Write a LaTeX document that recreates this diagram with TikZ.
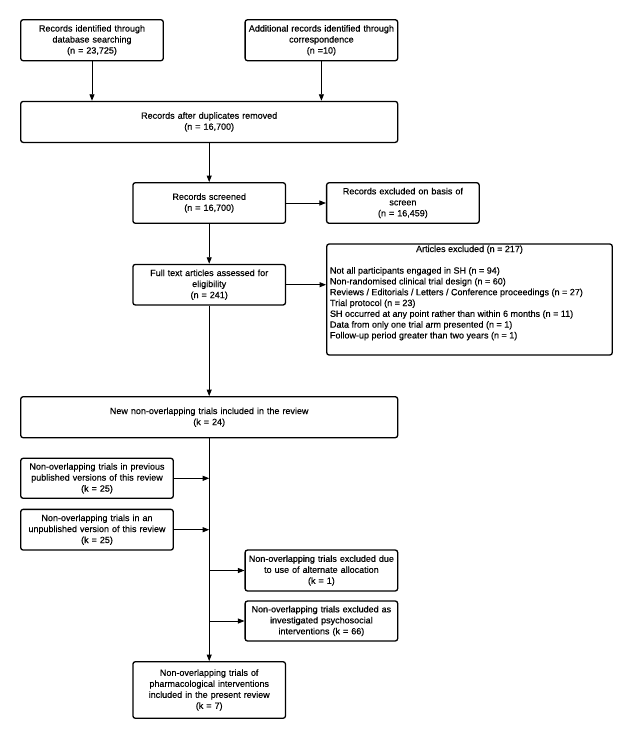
\documentclass[tikz,border=0pt]{standalone}
\usepackage{fontspec}
\setmainfont{Liberation Sans}[FakeBold=0.4]
\usetikzlibrary{arrows.meta}
\begin{document}
\begin{tikzpicture}[x=1pt,y=-1pt,
  box/.style={draw=black, line width=1.3pt, rounded corners=2.5pt, align=center, inner sep=2pt, font=\fontsize{9}{11}\selectfont, minimum height=41pt},
  std/.style={box, minimum width=152.6pt, text width=148pt},
  wide/.style={box, minimum width=377pt, text width=370pt},
  artbox/.style={draw=black, line width=1.3pt, rounded corners=2.5pt, inner xsep=3.3pt, inner ysep=1.5pt, font=\fontsize{9}{10.8}\selectfont},
  arr/.style={draw=black, line width=0.9pt, -{Triangle[length=6.5pt,width=5pt]}}]
\useasboundingbox (0,0) rectangle (632,740);

\node[std, minimum width=142.6pt, text width=138pt] (b1) at (92,40.2) {Records identified through\\database searching\\(n = 23,725)};
\node[std] (b2) at (321.4,40.2) {Additional records identified through\\correspondence\\(n =10)};
\node[wide] (dup) at (209.2,121.9) {Records after duplicates removed\\(n = 16,700)};
\node[std, minimum height=40.6pt] (scr) at (209.2,203) {Records screened\\(n = 16,700)};
\node[std, minimum height=40.6pt] (exc) at (402.9,203) {Records excluded on basis of\\screen\\(n = 16,459)};
\node[std, minimum height=40.6pt] (full) at (209.2,284.7) {Full text articles assessed for\\eligibility\\(n = 241)};
\node[artbox] (art) at (469.5,299.5) {\begin{minipage}[c][108pt][t]{279pt}\centering Articles excluded (n = 217)\par\vspace{10.8pt}\raggedright
Not all participants engaged in SH (n = 94)\\
Non-randomised clinical trial design (n = 60)\\
Reviews / Editorials / Letters / Conference proceedings (n = 27)\\
Trial protocol (n = 23)\\
SH occurred at any point rather than within 6 months (n = 11)\\
Data from only one trial arm presented (n = 1)\\
Follow-up period greater than two years (n = 1)\end{minipage}};
\node[wide] (new) at (209.2,417.2) {New non-overlapping trials included in the review\\(k = 24)};
\node[std, minimum height=40pt] (prev) at (97,478.3) {Non-overlapping trials in previous\\published versions of this review\\(k = 25)};
\node[std, minimum height=40.7pt] (unpub) at (97,529.7) {Non-overlapping trials in an\\unpublished version of this review\\(k = 25)};
\node[std] (alt) at (321.4,570.5) {Non-overlapping trials excluded due\\to use of alternate allocation\\(k = 1)};
\node[std, minimum height=40pt] (psy) at (321.4,621) {Non-overlapping trials excluded as\\investigated psychosocial\\interventions (k = 66)};
\node[std, minimum height=56.6pt] (final) at (209.2,690) {Non-overlapping trials of\\pharmacological interventions\\included in the present review\\(k = 7)};

\coordinate (j1) at (prev.east -| new.south);
\coordinate (j2) at (unpub.east -| new.south);
\coordinate (j3) at (alt.west -| new.south);
\coordinate (j4) at (psy.west -| new.south);

\draw[arr] (b1.south) -- (b1.south |- dup.north);
\draw[arr] (b2.south) -- (b2.south |- dup.north);
\draw[arr] (dup.south) -- (scr.north);
\draw[arr] (scr.east) -- (exc.west);
\draw[arr] (scr.south) -- (full.north);
\draw[arr] (full.east) -- (full.east -| art.west);
\draw[arr] (full.south) -- (new.north);
\draw[arr] (new.south) -- (final.north);
\draw[arr] (prev.east) -- (j1);
\draw[arr] (unpub.east) -- (j2);
\draw[arr] (j3) -- (alt.west);
\draw[arr] (j4) -- (psy.west);
\end{tikzpicture}
\end{document}
